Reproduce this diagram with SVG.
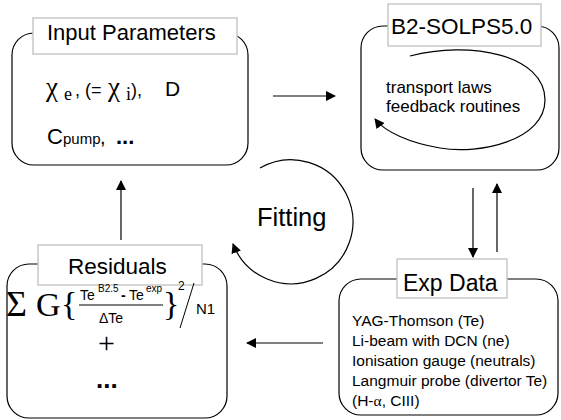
<svg xmlns="http://www.w3.org/2000/svg" width="561" height="420" viewBox="0 0 561 420">
<defs>
<marker id="ah" viewBox="0 0 10 10" refX="9" refY="5" markerWidth="10" markerHeight="10" markerUnits="userSpaceOnUse" orient="auto">
<path d="M0,0 L10,5 L0,10 z" fill="#000"/>
</marker>
</defs>
<style>
.box{fill:#fff;stroke:#000;stroke-width:1.2}
.lbl{fill:#fff;stroke:#c8c8c8;stroke-width:1.5}
.t{font-family:"Liberation Sans",Arial,sans-serif;fill:#000}
.s{font-family:"Liberation Serif","Times New Roman",serif;fill:#000}
.c{fill:none;stroke:#000;stroke-width:1.2}
</style>
<rect width="561" height="420" fill="#fff"/>
<g id="connectors">
<line class="c" x1="273" y1="96" x2="335" y2="96" marker-end="url(#ah)"/>
<line class="c" x1="473" y1="188" x2="473" y2="257" marker-end="url(#ah)"/>
<line class="c" x1="497" y1="252" x2="497" y2="184" marker-end="url(#ah)"/>
<line class="c" x1="323" y1="343" x2="247" y2="343" marker-end="url(#ah)"/>
<line class="c" x1="121" y1="240" x2="121" y2="181" marker-end="url(#ah)"/>
<path class="c" d="M260,168 A62,62 0 1 1 233,244" marker-end="url(#ah)"/>
</g>
<g id="fitting">
<text class="t" x="257" y="226" font-size="25.5">Fitting</text>
</g>
<g id="input-parameters">
<rect class="box" x="12" y="33" width="236" height="132" rx="22"/>
<rect class="lbl" x="33" y="18" width="204" height="36"/>
<text class="t" x="47" y="40" font-size="22">Input Parameters</text>
<text class="s" x="46" y="96" font-size="27">χ</text>
<text class="s" x="64" y="100" font-size="18">e</text>
<text class="t" x="75" y="96" font-size="18">, (=</text>
<text class="s" x="108" y="96" font-size="27">χ</text>
<text class="s" x="126" y="100" font-size="18">i</text>
<text class="t" x="131" y="96" font-size="18">),</text>
<text class="t" x="165" y="96" font-size="21">D</text>
<text class="t" x="47" y="144" font-size="22">C</text>
<text class="t" x="63" y="144" font-size="15">pump</text>
<text class="t" x="100" y="144" font-size="20">,</text>
<text class="t" x="116" y="144" font-size="22" font-weight="bold">...</text>
</g>
<g id="b2-solps">
<rect class="box" x="361" y="26" width="198" height="144" rx="22"/>
<rect class="lbl" x="388" y="4" width="153" height="42"/>
<text class="t" x="391" y="34" font-size="22.5">B2-SOLPS5.0</text>
<path class="c" d="M410,56 C470,40 545,55 545,100 C545,140 480,155 440,148 C410,143 385,132 375,119" marker-end="url(#ah)"/>
<text class="t" x="386" y="93" font-size="17">transport laws</text>
<text class="t" x="386" y="112" font-size="17">feedback routines</text>
</g>
<g id="exp-data">
<rect class="box" x="339" y="279" width="219" height="136" rx="22"/>
<rect class="lbl" x="397" y="259" width="110" height="39"/>
<text class="t" x="403" y="291" font-size="23">Exp Data</text>
<text class="t" x="352" y="326" font-size="15.5">YAG-Thomson  (Te)</text>
<text class="t" x="352" y="346" font-size="15.5">Li-beam with DCN  (ne)</text>
<text class="t" x="352" y="366" font-size="15.5">Ionisation gauge (neutrals)</text>
<text class="t" x="352" y="386" font-size="15.5">Langmuir probe (divertor Te)</text>
<text class="t" x="352" y="406" font-size="15.5"> (H-<tspan class="s">α</tspan>, CIII)</text>
</g>
<g id="residuals">
<rect class="box" x="7" y="264" width="220" height="154" rx="22"/>
<rect class="lbl" x="38" y="245" width="164" height="40"/>
<text class="t" x="68" y="274" font-size="22.5">Residuals</text>
<text class="s" x="6" y="316" font-size="36">Σ</text>
<text class="s" x="36" y="316" font-size="34">G</text>
<text class="s" x="61" y="315" font-size="34">{</text>
<text class="t" x="80" y="300" font-size="14">Te</text>
<text class="t" x="98" y="292" font-size="10">B2.5</text>
<text class="t" x="121" y="300" font-size="14" font-weight="bold">-</text>
<text class="t" x="129" y="300" font-size="14">Te</text>
<text class="t" x="146" y="292" font-size="10">exp</text>
<line x1="79" y1="305" x2="163" y2="305" stroke="#000" stroke-width="1"/>
<text class="t" x="99" y="323" font-size="14">ΔTe</text>
<text class="s" x="163" y="315" font-size="34">}</text>
<text class="t" x="178" y="290" font-size="12">2</text>
<line x1="194" y1="283" x2="180" y2="328" stroke="#000" stroke-width="1"/>
<text class="t" x="196" y="314" font-size="15">N1</text>
<text class="s" x="98" y="353" font-size="30">+</text>
<text class="t" x="96" y="388" font-size="26" font-weight="bold">...</text>
</g>
</svg>
